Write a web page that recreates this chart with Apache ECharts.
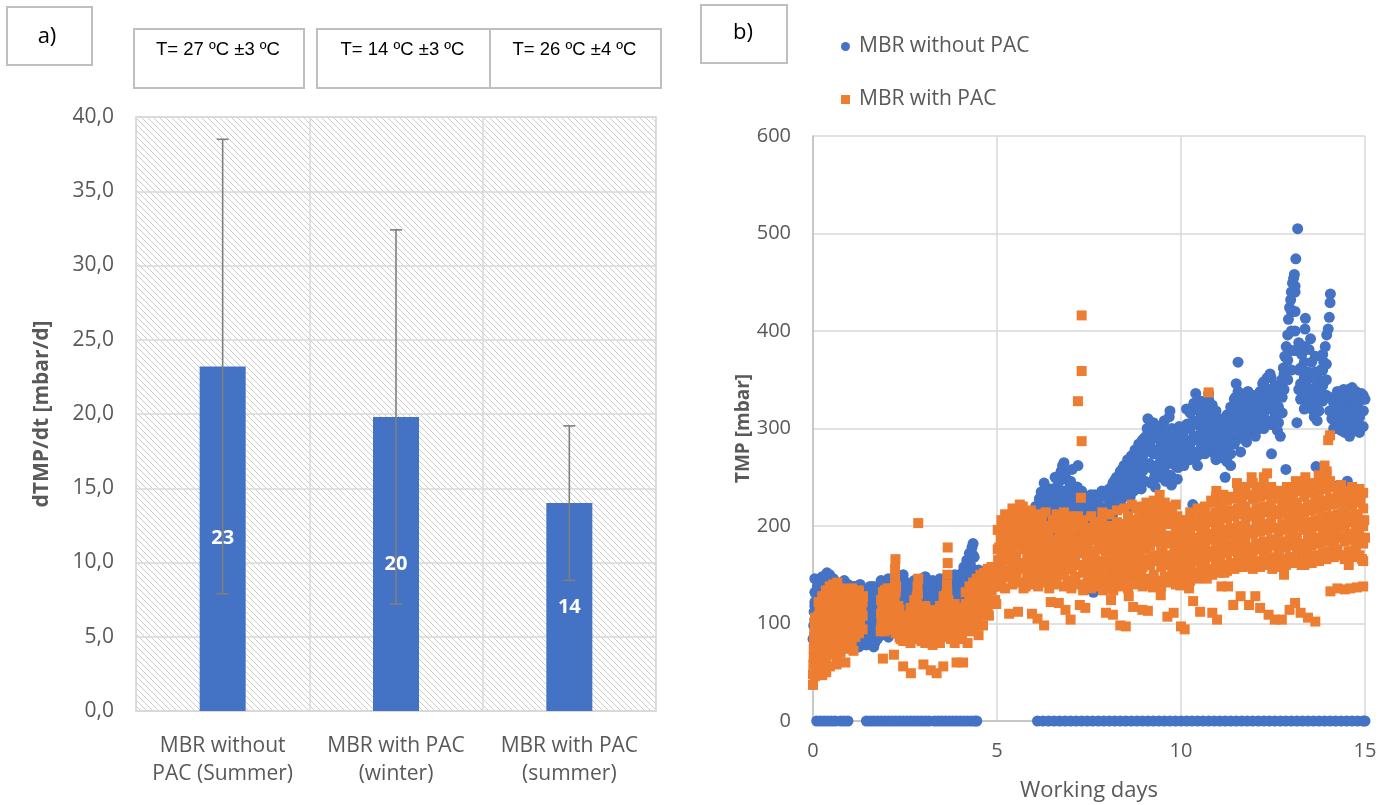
<!DOCTYPE html>
<html>
<head>
<meta charset="utf-8">
<script src="https://cdn.jsdelivr.net/npm/echarts@6/dist/echarts.min.js"></script>
<style>
  html, body { margin: 0; padding: 0; background: #fff; }
  #chart { width: 1386px; height: 805px; }
</style>
</head>
<body>
<div id="chart"></div>
<script>
// ---------- panel a) : fouling rate per operating period ----------
const barCategories = ['MBR without\nPAC (Summer)', 'MBR with PAC\n(winter)', 'MBR with PAC\n(summer)'];
const barMeans = [23.2, 19.8, 14.0];
const barStdDev = [15.3, 12.6, 5.2];
const tempLabels = ['T= 27 ºC ±3 ºC', 'T= 14 ºC ±3 ºC', 'T= 26 ºC ±4 ºC'];
const rateTicks = { min: 0, max: 40, interval: 5 };

// ---------- panel b) : TMP over working days ----------
const dayTicks = { min: 0, max: 15, interval: 5 };
const tmpTicks = { min: 0, max: 600, interval: 100 };

// MBR without PAC: logger readings of 0 mbar (pump stopped)
const withoutPacZeroDays = [
  0.10, 0.20, 0.30, 0.40, 0.50, 0.60, 0.75, 0.85, 0.95,
  1.45, 1.55, 1.65, 1.75, 1.85, 1.95, 2.05, 2.15, 2.25, 2.35, 2.45, 2.55, 2.65, 2.75, 2.85, 2.95, 3.05, 3.15,
  3.30, 3.40, 3.50, 3.60, 3.70, 3.80, 3.90, 4.00, 4.10, 4.20, 4.30, 4.40, 4.45,
  6.10, 6.25, 6.40, 6.55, 6.70, 6.85, 7.00, 7.15, 7.30, 7.45, 7.60, 7.75, 7.90, 8.05, 8.20, 8.35, 8.50, 8.65,
  8.80, 8.95, 9.10, 9.25, 9.40, 9.55, 9.70, 9.85, 10.00, 10.15, 10.30, 10.45, 10.60, 10.75, 10.90, 11.05,
  11.20, 11.35, 11.50, 11.65, 11.80, 11.95, 12.10, 12.25, 12.40, 12.55, 12.70, 12.85, 13.00, 13.15, 13.30,
  13.45, 13.60, 13.75, 13.90, 14.05, 14.20, 14.35, 14.50, 14.65, 14.80, 14.95, 15.00
];

// MBR without PAC: single readings [day, TMP mbar]
const withoutPacDays0to5 = [
  [0.00,84],[0.02,98],[0.03,112],[0.05,122],[0.06,104],[0.08,130],[0.10,118],[0.12,138],[0.14,108],[0.16,126],
  [0.18,140],[0.20,115],[0.22,132],[0.25,145],[0.27,122],[0.30,136],[0.32,148],[0.35,128],[0.38,152],[0.40,142],
  [0.42,118],[0.45,134],[0.48,126],[0.50,112],[0.53,138],[0.56,122],[0.58,96],[0.60,130],[0.63,108],[0.66,118],
  [0.70,100],[0.74,126],[0.78,112],[0.82,132],[0.86,120],[0.90,104],[0.94,128],[0.98,138],
  [1.00,80],[1.02,95],[1.05,110],[1.08,125],[1.10,138],[1.13,88],[1.16,102],[1.20,118],[1.24,132],[1.28,140],
  [1.30,78],[1.33,92],[1.36,106],[1.40,120],[1.44,134],[1.48,84],[1.52,98],[1.56,112],[1.60,126],[1.64,138],
  [1.68,80],[1.72,94],[1.75,108],[1.78,122],[1.80,135],
  [1.85,90],[1.90,110],[1.95,128],[2.00,100],[2.05,86],[2.10,120],[2.15,138],[2.20,145],[2.25,105],[2.30,130],
  [2.35,148],[2.40,115],[2.45,140],[2.50,125],
  [2.55,100],[2.60,132],[2.65,118],[2.70,108],[2.75,140],[2.80,96],[2.85,125],[2.90,112],[2.95,135],[3.00,104],
  [3.05,148],[3.10,120],[3.15,140],[3.20,110],[3.25,128],
  [3.30,102],[3.35,124],[3.40,142],[3.45,115],[3.50,135],[3.55,108],[3.60,128],[3.65,145],[3.70,118],[3.75,138],
  [3.80,104],[3.85,126],[3.90,146],[3.95,108],[4.00,132],
  [4.05,150],[4.08,138],[4.10,158],[4.14,145],[4.18,165],[4.22,152],[4.25,172],[4.28,160],[4.32,178],[4.35,182],
  [4.38,168],[4.42,150],[4.46,142],[4.50,155],[4.55,148],[4.60,140],[4.65,152],[4.70,146],[4.80,148],[4.90,142]
];

const withoutPacDays6to10 = [
  [6.05,180],[6.10,205],[6.15,222],[6.18,212],[6.20,235],[6.25,198],[6.28,244],[6.30,226],[6.33,210],[6.36,190],
  [6.40,232],[6.43,205],[6.46,218],[6.50,142],[6.52,228],[6.55,200],[6.60,238],[6.63,214],[6.66,190],[6.70,246],
  [6.74,256],[6.78,262],[6.82,265],[6.86,250],[6.90,222],[6.93,205],[6.96,238],[7.00,246],[7.03,214],[7.06,195],
  [7.10,230],[7.14,208],[7.18,240],[7.22,192],[7.26,222],[7.30,236],[7.34,178],[7.38,210],[7.42,226],
  [7.45,200],[7.50,218],[7.55,232],[7.60,190],[7.62,132],[7.65,212],[7.70,226],[7.75,198],[7.80,220],[7.85,236],
  [7.90,204],[7.95,216],[8.00,230],[8.05,198],[8.10,222],[8.15,242],[8.20,247],
  [8.25,248],[8.30,225],[8.35,240],[8.40,258],[8.45,232],[8.50,250],[8.55,218],[8.60,262],[8.65,244],[8.70,266],
  [8.75,252],[8.80,275],[8.85,258],[8.90,282],[8.95,270],[9.00,290],[9.05,262],[9.08,300],[9.10,310],[9.12,278],
  [9.15,285],[9.20,262],[9.25,295],[9.28,250],[9.32,278],[9.36,298],[9.40,302],[9.44,270],[9.48,286],[9.52,256],
  [9.56,280],[9.60,298],[9.64,268],[9.68,312],[9.70,318],[9.74,242],[9.76,290],[9.80,272],[9.84,296],[9.88,282],
  [9.92,260],[9.96,288],[10.00,300],[10.04,276],
  [8.62,230],[8.72,236],[8.82,242],[8.92,238],[9.02,246],[9.18,244],[9.30,240],[9.42,250],[9.58,246],[9.72,252],
  [9.90,248],[7.20,262],[7.04,258],[6.58,250]
];

const withoutPacDays10to15 = [
  [10.05,284],[10.08,262],[10.10,298],[10.15,270],[10.20,305],[10.25,276],[10.30,318],[10.32,222],[10.35,326],
  [10.40,336],[10.42,292],[10.45,262],[10.50,318],[10.55,290],[10.60,276],[10.65,304],[10.70,310],[10.75,336],
  [10.80,284],[10.85,300],[10.90,316],[10.95,268],[11.00,310],[11.05,288],[11.10,270],[11.15,296],[11.20,250],
  [11.25,282],[11.30,308],[11.35,262],
  [11.40,320],[11.45,306],[11.48,332],[11.50,346],[11.55,368],[11.58,290],[11.62,276],[11.66,318],[11.70,300],
  [11.74,322],[11.78,286],[11.82,338],[11.86,312],[11.90,328],[11.94,296],[11.98,312],[12.02,292],[12.06,324],
  [12.10,302],[12.14,336],[12.18,318],[12.22,346],[12.26,306],[12.30,326],[12.34,352],[12.38,340],[12.42,356],
  [12.46,274],[12.50,330],[12.54,318],[12.58,338],[12.62,298],[12.66,344],[12.70,292],[12.74,350],
  [12.78,362],[12.82,374],[12.85,258],[12.86,384],[12.90,396],[12.92,412],[12.95,424],[12.98,432],[13.00,440],
  [13.03,449],[13.06,454],[13.08,458],[13.12,474],[13.17,505],[13.15,306],[13.20,388],[13.25,362],[13.28,376],
  [13.32,346],[13.35,320],[13.37,402],[13.38,413],[13.42,334],[13.48,381],[13.52,392],[13.55,368],[13.58,326],
  [13.60,354],[13.62,312],[13.67,261],[13.70,308],[13.75,340],[13.80,360],[13.84,346],[13.88,368],[13.92,384],
  [13.96,396],[14.00,402],[14.02,332],[14.03,414],[14.05,429],[14.06,438],[14.04,318],
  [14.10,310],[14.15,326],[14.20,300],[14.22,241],[14.25,318],[14.30,334],[14.32,231],[14.35,306],[14.40,322],
  [14.42,340],[14.45,296],[14.50,316],[14.52,246],[14.55,332],[14.58,292],[14.60,304],[14.65,342],[14.70,320],
  [14.72,336],[14.75,298],[14.80,328],[14.85,312],[14.88,302],[14.90,336],[14.95,318],[15.00,330]
];

// MBR without PAC: filtration cycles logged as columns [day, [TMP readings]]
const withoutPacCyclesWeek1 = [
  [0.05,[90,104,118,132,146]],[0.15,[86,100,114,128,142]],[0.25,[92,106,120,134,148]],[0.35,[88,102,116,130,144]],
  [0.45,[94,108,122,136,150]],[0.55,[90,104,118,132,146]],[0.65,[86,100,114,128,142]],[0.75,[92,106,120,134]],
  [0.85,[88,102,116,130,144]],[0.95,[84,98,112,126,140]],[1.05,[78,92,106,120,134]],[1.15,[82,96,110,124,138]],
  [1.25,[76,90,104,118,132]],[1.35,[80,94,108,122,136]],[1.45,[78,92,106,120,134]],[1.55,[82,96,110,124,138]],
  [1.65,[76,90,104,118,132]],[1.75,[84,98,112,126]],[1.85,[88,102,116,130,144]],[1.95,[94,108,122,136]],
  [2.05,[90,104,118,132,146]],[2.15,[96,110,124,138]],[2.25,[92,106,120,134,148]],[2.35,[98,112,126,140]],
  [2.45,[94,108,122,136,150]],[2.55,[100,114,128,142]],[2.65,[96,110,124,138]],[2.75,[102,116,130,144]],
  [2.85,[98,112,126,140]],[2.95,[104,118,132,146]],[3.05,[100,114,128,142]],[3.15,[96,110,124,138]],
  [3.25,[102,116,130,144]],[3.35,[98,112,126,140]],[3.45,[104,118,132,146]],[3.55,[100,114,128,142]],
  [3.65,[106,120,134,148]],[3.75,[102,116,130,144]],[3.85,[108,122,136,150]],[3.95,[104,118,132,146]],
  [4.05,[110,124,138,152]],[4.15,[114,128,142,158]],[4.25,[118,132,146,164]],[4.35,[122,136,150,170]],
  [4.45,[126,140,154]],[4.55,[130,144,152]],[4.65,[134,146]],[4.75,[138,150]]
];

const withoutPacCyclesWeek2 = [
  [6.05,[168,186,204,220]],[6.15,[174,192,210,228]],[6.25,[180,198,216,234]],[6.35,[176,194,212,230]],
  [6.45,[184,202,220,238]],[6.55,[180,198,216,234]],[6.65,[188,206,224,242]],[6.75,[194,212,230,248]],
  [6.85,[200,218,236,254]],[6.95,[192,210,228,246]],[7.05,[188,206,224,240]],[7.15,[196,214,232]],
  [7.25,[190,208,226]],[7.35,[194,212,228]],[7.45,[198,214,230]],[7.55,[194,210,226]],[7.65,[200,216,232]],
  [7.75,[196,212,228]],[7.85,[202,218,234]],[7.95,[198,214,230]],[8.05,[206,222,238]],[8.15,[212,228,244]],
  [8.25,[218,234,250]],[8.35,[224,240,256]],[8.45,[230,246,262]],[8.55,[236,252,268]],[8.65,[240,256,272]],
  [8.75,[246,262,278]],[8.85,[252,268,284]],[8.95,[256,272,288]],[9.05,[260,276,292]],[9.15,[264,280,296]],
  [9.25,[258,274,290,306]],[9.35,[262,278,294]],[9.45,[266,282,298]],[9.55,[260,276,292,308]],
  [9.65,[264,280,296]],[9.75,[268,284,300]],[9.85,[262,278,294]],[9.95,[270,286,302]]
];

const withoutPacCyclesWeek3 = [
  [10.05,[266,282,298]],[10.15,[272,288,304,320]],[10.25,[268,284,300,316]],[10.35,[276,292,308,324]],
  [10.45,[272,288,304,320]],[10.55,[280,296,312,328]],[10.65,[274,290,306,322]],[10.75,[282,298,314,330]],
  [10.85,[276,292,308,324]],[10.95,[270,286,302,318]],[11.05,[278,294,310]],[11.15,[272,288,304]],
  [11.25,[266,282,298,314]],[11.35,[274,290,306,322]],[11.45,[284,300,316,330]],[11.55,[290,306,322,338]],
  [11.65,[296,312,328]],[11.75,[288,304,320,336]],[11.85,[296,312,328]],[11.95,[302,318,334]],
  [12.05,[298,314,330]],[12.15,[306,322,338]],[12.25,[300,316,332,348]],[12.35,[308,324,340]],
  [12.45,[304,320,336,352]],[12.55,[312,328,344]],[12.65,[306,322,338]],[12.75,[316,332,348]],
  [12.80,[340,356]],[12.90,[350,370]],[13.00,[360,380,400,420]],[13.10,[380,400,420,440,446]],
  [13.20,[340,360,380]],[13.25,[330,346,360]],[13.35,[336,352,368,384]],[13.45,[326,342,358]],
  [13.55,[320,336,352]],[13.65,[326,342,358,374]],[13.75,[318,334,350]],[13.85,[328,344,360,376]],
  [13.95,[334,350,366]],[14.15,[300,316,332]],[14.25,[306,322,338]],[14.35,[298,314,330]],
  [14.45,[304,320,336]],[14.55,[310,326,340]],[14.65,[300,316,332]],[14.75,[306,322,338]],
  [14.85,[296,312,328]],[14.95,[302,318,334]]
];

// MBR with PAC: single readings [day, TMP mbar]
const withPacDays0to5 = [
  [0.00,37],[0.00,48],[0.01,58],[0.02,66],[0.02,74],[0.03,82],[0.04,90],[0.05,98],[0.06,106],[0.07,78],
  [0.08,64],[0.10,72],[0.12,84],[0.14,96],[0.16,108],[0.18,118],[0.20,88],[0.22,100],[0.24,112],[0.25,47],
  [0.26,122],[0.28,92],[0.30,106],[0.32,118],[0.34,128],[0.36,50],[0.38,100],[0.40,112],[0.42,124],[0.44,134],
  [0.46,56],[0.48,104],[0.50,118],[0.52,130],[0.54,140],[0.56,110],[0.58,96],[0.60,122],[0.62,134],[0.64,58],
  [0.66,142],[0.68,108],
  [0.70,82],[0.72,96],[0.74,110],[0.76,124],[0.78,136],[0.80,88],[0.82,102],[0.84,116],[0.86,128],[0.88,60],
  [0.90,92],[0.92,106],[0.94,120],[0.96,132],[0.98,84],[1.00,98],[1.02,112],[1.04,126],[1.06,136],[1.08,90],
  [1.10,72],[1.12,104],[1.14,118],[1.16,130],[1.18,94],[1.20,108],[1.22,122],[1.24,134],[1.28,100],[1.32,116],
  [1.36,128],
  [1.84,92],[1.86,106],[1.88,120],[1.90,132],[1.90,64],[1.93,98],[1.96,112],[1.99,126],[2.02,136],[2.05,94],
  [2.08,108],[2.11,122],[2.14,134],[2.17,100],[2.20,114],[2.22,128],[2.23,146],[2.23,156],[2.24,166],[2.20,68],
  [2.26,138],[2.29,104],[2.32,118],[2.35,90],[2.38,84],[2.42,96],[2.45,56],[2.48,88],[2.52,82],[2.56,90],
  [2.60,86],[2.64,94],[2.66,49],[2.68,100],[2.72,88],[2.76,108],[2.80,118],[2.82,128],[2.84,138],[2.86,146],
  [2.86,203],[2.88,112],[2.90,98],[2.94,90],[2.98,104],[3.00,58],[3.02,116],[3.06,92],[3.10,84],[3.14,100],
  [3.18,110],[3.20,52],[3.22,88],[3.26,96],[3.30,80],[3.34,106],[3.36,49],[3.38,92],
  [3.42,84],[3.46,98],[3.50,110],[3.54,56],[3.56,92],[3.60,118],[3.62,130],[3.64,140],[3.65,150],[3.66,162],
  [3.66,178],[3.68,124],[3.70,106],[3.74,96],[3.78,88],[3.82,100],[3.86,112],[3.90,60],[3.92,94],[3.96,104],
  [4.00,90],[4.04,100],[4.08,60],[4.10,108],[4.14,96],[4.18,116],[4.20,80],[4.22,104],[4.26,122],[4.30,110],
  [4.34,128],[4.38,118],[4.40,92],[4.42,134],[4.46,124],[4.50,88],[4.52,140],[4.56,130],[4.60,146],[4.62,98],
  [4.64,136],[4.68,152],[4.72,142],[4.76,154],[4.78,108],[4.80,146],[4.84,150],[4.88,138],[4.92,152],[4.96,146],
  [4.98,120]
];

const withPacDays5to10 = [
  [5.00,150],[5.03,165],[5.06,178],[5.08,140],[5.10,188],[5.13,160],[5.16,172],[5.18,196],[5.20,148],[5.22,182],
  [5.25,204],[5.28,166],[5.30,190],[5.33,110],[5.35,176],[5.38,200],[5.40,156],[5.42,212],[5.45,184],[5.48,168],
  [5.50,194],[5.53,146],[5.55,206],[5.57,112],[5.60,180],[5.63,214],[5.66,192],[5.68,160],[5.70,220],[5.73,176],
  [5.76,200],[5.78,138],[5.80,186],[5.84,208],[5.88,170],[5.90,214],[5.93,150],[5.95,110],[5.97,192],
  [6.00,176],[6.03,198],[6.06,160],[6.08,150],[6.10,105],[6.12,186],[6.15,170],[6.18,202],[6.20,146],[6.23,182],
  [6.26,166],[6.28,98],[6.30,196],[6.33,156],[6.36,176],[6.40,190],[6.43,148],[6.46,122],[6.48,170],[6.50,200],
  [6.53,160],[6.56,184],[6.60,150],[6.63,206],[6.66,172],[6.68,121],[6.70,190],[6.73,210],[6.76,164],[6.80,196],
  [6.83,150],[6.86,114],[6.88,180],[6.92,202],[6.95,168],[6.98,188],[7.00,104],[7.03,156],[7.06,196],[7.10,172],
  [7.13,146],[7.16,186],[7.20,210],[7.20,328],[7.23,160],[7.25,119],[7.28,229],[7.30,287],[7.30,359],[7.30,416],
  [7.32,176],[7.35,152],[7.38,190],[7.40,116],
  [7.44,168],[7.48,184],[7.52,150],[7.55,192],[7.58,174],[7.62,140],[7.65,186],[7.68,160],[7.72,196],[7.75,148],
  [7.78,176],[7.82,190],[7.85,162],[7.88,134],[7.90,182],[7.93,198],[7.96,111],[7.98,156],[8.00,176],[8.04,190],
  [8.07,146],[8.10,124],[8.12,168],[8.15,109],[8.17,186],[8.20,198],[8.24,156],[8.27,176],[8.30,142],[8.33,192],
  [8.35,98],[8.38,164],[8.42,184],[8.45,150],[8.48,200],[8.50,97],[8.52,172],[8.55,188],[8.58,128],[8.60,160],
  [8.64,206],[8.68,178],[8.70,117],[8.72,194],[8.75,152],[8.78,218],[8.82,170],[8.85,200],[8.88,186],[8.92,150],
  [8.95,114],[8.98,210],[9.02,176],[9.05,194],[9.08,160],[9.10,113],[9.12,216],[9.16,182],[9.20,198],[9.24,137],
  [9.26,168],[9.30,208],[9.34,186],[9.38,224],[9.42,232],[9.45,129],[9.46,196],[9.50,174],[9.54,212],[9.58,190],
  [9.60,143],[9.63,107],[9.65,160],[9.68,204],[9.72,184],[9.76,220],[9.80,111],[9.82,172],[9.86,196],[9.90,210],
  [9.94,160],[9.98,139],[10.00,97]
];

const withPacDays10to15 = [
  [10.02,150],[10.05,172],[10.08,196],[10.10,94],[10.12,160],[10.15,184],[10.18,206],[10.20,166],[10.22,136],
  [10.24,190],[10.27,154],[10.30,178],[10.33,123],[10.35,200],[10.38,164],[10.42,186],[10.45,150],[10.48,208],
  [10.52,112],[10.54,174],[10.57,196],[10.60,158],[10.63,216],[10.66,182],[10.70,146],[10.72,204],[10.75,337],
  [10.78,170],[10.82,226],[10.85,111],[10.87,190],[10.90,156],[10.93,214],[10.96,236],[10.98,104],[11.00,178],
  [11.03,200],[11.06,164],[11.10,138],[11.12,222],[11.15,186],[11.18,152],[11.22,208],[11.25,174],[11.28,138],
  [11.30,196],[11.34,230],[11.38,162],[11.42,119],[11.44,212],[11.48,186],[11.52,244],[11.55,170],[11.58,200],
  [11.62,128],[11.65,226],[11.68,158],[11.72,190],[11.75,240],[11.78,176],[11.82,212],[11.85,119],[11.88,166],
  [11.92,250],[11.95,196],[11.98,228],[12.02,128],[12.04,182],[12.08,210],[12.12,160],[12.15,116],[12.18,240],
  [12.22,196],[12.26,218],[12.30,172],[12.34,254],[12.38,109],[12.40,200],[12.44,232],[12.48,156],[12.52,186],
  [12.55,104],[12.58,214],[12.62,236],[12.66,170],[12.70,198],[12.74,104],[12.76,222],[12.80,150],[12.84,184],
  [12.88,240],[12.92,206],[12.95,114],[12.98,168],[13.02,226],[13.06,192],[13.10,121],[13.12,246],[13.16,178],
  [13.20,210],[13.25,111],[13.28,160],[13.30,236],[13.34,198],[13.38,250],[13.42,172],[13.45,106],[13.48,216],
  [13.52,188],[13.56,244],[13.60,164],[13.65,102],[13.66,226],[13.70,200],[13.74,252],[13.78,182],[13.82,210],
  [13.86,240],[13.90,262],[13.93,170],[13.96,256],[14.00,288],[14.02,196],[14.05,293],[14.06,133],[14.08,228],
  [14.12,210],[14.16,182],[14.20,240],[14.25,136],[14.28,200],[14.32,226],[14.36,170],[14.40,214],[14.45,135],
  [14.48,232],[14.52,192],[14.56,160],[14.60,136],[14.62,220],[14.66,204],[14.70,236],[14.74,178],[14.78,137],
  [14.80,212],[14.84,196],[14.88,226],[14.92,166],[14.95,138],[14.98,206],[15.00,188]
];

// MBR with PAC: filtration cycles logged as columns [day, [TMP readings]]
const withPacCyclesWeek1 = [
  [0.05,[46,60,74,88,102]],[0.15,[52,66,80,94,108,122]],[0.25,[58,72,86,100,114,128]],[0.35,[64,78,92,106,120,134]],
  [0.45,[68,82,96,110,124,138]],[0.55,[72,86,100,114,128]],[0.65,[66,80,94,108,122,138]],[0.75,[70,84,98,112,126]],
  [0.85,[74,88,102,116,130]],[0.95,[78,92,106,120,134]],[1.05,[82,96,110,124]],[1.15,[86,100,114,128]],
  [1.25,[90,104,118,132]],[1.35,[94,108,122]],
  [1.85,[96,110,124]],[1.95,[92,106,120,134]],[2.05,[98,112,126]],[2.15,[94,108,122,136]],[2.25,[90,104,118,132]],
  [2.35,[86,100,114]],[2.45,[82,94,106]],[2.55,[84,96,108]],[2.65,[80,92,104,116]],[2.75,[84,96,110,124]],
  [2.85,[88,102,116,130]],[2.95,[82,94,108]],[3.05,[80,92,104,118]],[3.15,[84,96,108]],[3.25,[78,90,102,114]],
  [3.35,[82,94,106]],[3.45,[80,92,104,118]],[3.55,[86,100,114,128]],[3.65,[90,104,118,132]],[3.75,[84,98,112]],
  [3.85,[80,92,106,120]],[3.95,[84,96,110]],[4.05,[88,102,116]],[4.15,[92,106,120,132]],[4.25,[96,110,124,138]],
  [4.35,[100,114,128,142]],[4.45,[104,118,132,146]],[4.55,[108,122,136,150]],[4.65,[112,126,140,152]],
  [4.75,[116,130,144,156]],[4.85,[120,134,146,158]],[4.95,[124,138,150]]
];

const withPacCyclesWeek2 = [
  [5.02,[138,158,176,196]],[5.12,[144,166,186,206]],[5.22,[136,154,172,192,212]],[5.32,[148,168,188,208]],
  [5.42,[140,160,180,200,218]],[5.52,[150,170,190,210]],[5.62,[142,162,184,204,222]],[5.72,[136,156,178,198,214]],
  [5.82,[146,166,188,206]],[5.92,[140,160,180,200,216]],[6.02,[148,168,190,208]],[6.12,[138,156,176,196,212]],
  [6.22,[150,170,190,206]],[6.32,[142,162,182,200,214]],[6.42,[136,156,178,198]],[6.52,[146,166,186,206]],
  [6.62,[140,160,180,198,212]],[6.72,[150,170,188,206]],[6.82,[138,158,178,196,214]],[6.92,[144,164,184,204]],
  [7.02,[136,156,176,196,210]],[7.12,[148,166,186,204]],[7.22,[140,160,180,198]],[7.34,[134,154,172,192,206]],
  [7.46,[142,162,180,198]],[7.56,[136,156,174,194,210]],[7.66,[146,166,186,204]],[7.76,[138,158,178,198]],
  [7.86,[144,164,184,204,214]],[7.96,[136,154,174,194]],[8.06,[142,162,182,200,212]],[8.16,[134,152,172,192]],
  [8.26,[146,166,186,204,216]],[8.36,[138,158,176,196]],[8.46,[144,164,184,202,218]],[8.56,[136,156,176,196,210]],
  [8.66,[146,166,186,206,222]],[8.76,[140,160,180,200]],[8.86,[148,168,188,208,220]],[8.96,[138,158,178,198,214]],
  [9.06,[146,166,186,206,224]],[9.16,[140,160,180,200,214]],[9.26,[150,170,190,210,226]],[9.36,[144,164,184,204,218]],
  [9.46,[138,158,178,198,216]],[9.56,[148,168,188,208,224]],[9.66,[142,162,182,202,218]],[9.76,[150,170,190,210]],
  [9.86,[140,160,180,200,222]],[9.96,[146,166,186,206]]
];

const withPacCyclesWeek3 = [
  [10.05,[142,160,178,196]],[10.15,[150,168,186,204]],[10.25,[144,162,180,198,214]],[10.35,[152,170,188,206]],
  [10.45,[146,164,182,200,218]],[10.55,[154,172,190,208]],[10.65,[148,166,184,202,220]],[10.75,[156,174,192,210]],
  [10.85,[150,168,186,204,224]],[10.95,[158,176,194,212,230]],[11.05,[152,170,188,206,222]],[11.15,[160,178,196,214,232]],
  [11.25,[154,172,190,208,226]],[11.35,[162,180,198,216]],[11.45,[156,174,192,210,228]],[11.55,[164,182,200,218,236]],
  [11.65,[158,176,194,212,230]],[11.75,[166,184,202,220]],[11.85,[160,178,196,214,232]],[11.95,[156,174,192,210,228,244]],
  [12.05,[164,182,200,218,236]],[12.15,[158,176,194,212,230]],[12.25,[166,184,202,220,238,250]],[12.35,[160,178,196,214,232]],
  [12.45,[168,186,204,222,240]],[12.55,[162,180,198,216,234]],[12.65,[158,176,194,212,228]],[12.75,[166,184,202,220,236]],
  [12.85,[160,178,196,214,230]],[12.95,[168,186,204,222,238]],[13.05,[162,180,198,216,234]],[13.15,[170,188,206,224,240]],
  [13.25,[164,182,200,218,236]],[13.35,[160,178,196,214,230,246]],[13.45,[168,186,204,222,240]],[13.55,[162,180,198,216,234]],
  [13.65,[170,188,206,224,242]],[13.75,[164,182,200,218,236]],[13.85,[172,190,208,226,244]],[13.95,[166,184,202,220,238,252]],
  [14.05,[174,192,210,228,246]],[14.15,[168,186,204,222,240]],[14.25,[176,194,212,230]],[14.35,[170,188,206,224,242]],
  [14.45,[166,184,202,220,236]],[14.55,[174,192,210,228]],[14.65,[168,186,204,222,240]],[14.75,[176,194,212,230]],
  [14.85,[170,188,206,224,238]],[14.95,[164,182,200,218,234]]
];

// ---------- styling ----------
const BLUE = '#4472C4';
const ORANGE = '#ED7D31';
const TEXT = '#595959';
const GRID_LINE = '#d9d9d9';
const FONT = '"Open Sans", "Noto Sans", sans-serif';

// light diagonal hatching used as the plot-area fill of panel a)
function hatchPattern() {
  const s = 6;
  const c = document.createElement('canvas');
  c.width = s; c.height = s;
  const g = c.getContext('2d');
  g.fillStyle = '#ffffff';
  g.fillRect(0, 0, s, s);
  g.strokeStyle = '#cdcdcd';
  g.lineWidth = 1;
  g.beginPath();
  g.moveTo(-1, -1); g.lineTo(s + 1, s + 1);
  g.moveTo(-1, s - 1); g.lineTo(1, s + 1);
  g.moveTo(s - 1, -1); g.lineTo(s + 1, 1);
  g.stroke();
  return c;
}

// expand [day, [readings]] columns into [day, reading] points
function expandCycles(cycles) {
  const out = [];
  cycles.forEach(([d, vals]) => vals.forEach(v => out.push([d, v])));
  return out;
}

const errorData = barMeans.map((m, i) => [i, m - barStdDev[i], m + barStdDev[i]]);
const withoutPac = withoutPacZeroDays.map(d => [d, 0])
  .concat(expandCycles(withoutPacCyclesWeek1), expandCycles(withoutPacCyclesWeek2), expandCycles(withoutPacCyclesWeek3))
  .concat(withoutPacDays0to5, withoutPacDays6to10, withoutPacDays10to15);
const withPac = expandCycles(withPacCyclesWeek1)
  .concat(expandCycles(withPacCyclesWeek2), expandCycles(withPacCyclesWeek3))
  .concat(withPacDays0to5, withPacDays5to10, withPacDays10to15);

// boxed captions above panel a) and the panel tags
const boxStyle = { fill: '#fff', stroke: '#bfbfbf', lineWidth: 2 };
const tempBoxes = [[133, 170], [316, 173], [489, 171]];
const graphics = [
  { type: 'rect', left: 6, top: 6, shape: { width: 85, height: 58 }, style: boxStyle },
  { type: 'text', x: 47, y: 37, style: { text: 'a)', font: '22px ' + FONT, fill: '#000', align: 'center', verticalAlign: 'middle' } },
  { type: 'rect', left: 700, top: 4, shape: { width: 86, height: 58 }, style: boxStyle },
  { type: 'text', x: 743, y: 33, style: { text: 'b)', font: '22px ' + FONT, fill: '#000', align: 'center', verticalAlign: 'middle' } }
];
tempLabels.forEach((t, i) => {
  const [x, w] = tempBoxes[i];
  graphics.push({ type: 'rect', left: x, top: 28, shape: { width: w, height: 59 }, style: boxStyle });
  graphics.push({ type: 'text', x: x + w / 2, y: 50, style: { text: t, font: '18.5px "Liberation Sans", Arial, sans-serif', fill: '#000', align: 'center', verticalAlign: 'middle' } });
});

const chart = echarts.init(document.getElementById('chart'), null, { renderer: 'canvas' });
chart.setOption({
  animation: false,
  backgroundColor: '#fff',
  textStyle: { fontFamily: FONT },
  graphic: graphics,
  legend: {
    orient: 'vertical',
    left: 836,
    top: 31,
    itemGap: 32,
    itemWidth: 9,
    itemHeight: 9,
    textStyle: { color: TEXT, fontSize: 21, fontFamily: FONT, padding: [0, 0, 0, 4] },
    data: [
      { name: 'MBR without PAC', icon: 'circle' },
      { name: 'MBR with PAC', icon: 'rect' }
    ]
  },
  grid: [
    { left: 136, right: 730, top: 117, bottom: 94, show: true, outerBoundsMode: 'none',
      backgroundColor: { image: hatchPattern(), repeat: 'repeat' },
      borderColor: GRID_LINE, borderWidth: 1.5 },
    { left: 813, right: 21, top: 136, bottom: 84, outerBoundsMode: 'none' }
  ],
  xAxis: [
    {
      gridIndex: 0, type: 'category', data: barCategories,
      axisLine: { lineStyle: { color: GRID_LINE, width: 1.5 } },
      axisTick: { show: false },
      splitLine: { show: true, lineStyle: { color: GRID_LINE, width: 1.5 } },
      axisLabel: { color: TEXT, fontSize: 21, lineHeight: 28, margin: 21, interval: 0 }
    },
    {
      gridIndex: 1, type: 'value', min: dayTicks.min, max: dayTicks.max, interval: dayTicks.interval,
      name: 'Working days', nameLocation: 'middle', nameGap: 59,
      nameTextStyle: { color: TEXT, fontSize: 22 },
      axisLine: { show: true, lineStyle: { color: '#bfbfbf', width: 1.5 } },
      axisTick: { show: false },
      splitLine: { show: true, lineStyle: { color: GRID_LINE, width: 1.5 } },
      axisLabel: { color: TEXT, fontSize: 20, margin: 20 }
    }
  ],
  yAxis: [
    {
      gridIndex: 0, type: 'value', min: rateTicks.min, max: rateTicks.max, interval: rateTicks.interval,
      name: 'dTMP/dt [mbar/d]', nameLocation: 'middle', nameGap: 83,
      nameTextStyle: { color: TEXT, fontSize: 21, fontWeight: 'bold' },
      axisLine: { show: false }, axisTick: { show: false },
      splitLine: { show: true, lineStyle: { color: GRID_LINE, width: 1.5 } },
      axisLabel: { color: TEXT, fontSize: 21, margin: 22, formatter: v => v.toFixed(1).replace('.', ',') }
    },
    {
      gridIndex: 1, type: 'value', min: tmpTicks.min, max: tmpTicks.max, interval: tmpTicks.interval,
      name: 'TMP [mbar]', nameLocation: 'middle', nameGap: 25,
      nameTextStyle: { color: TEXT, fontSize: 19, fontWeight: 'bold' },
      axisLine: { show: true, lineStyle: { color: '#bfbfbf', width: 1.5 } },
      axisTick: { show: false },
      splitLine: { show: true, lineStyle: { color: GRID_LINE, width: 1.5 } },
      axisLabel: { color: TEXT, fontSize: 20, margin: 22 }
    }
  ],
  series: [
    {
      type: 'bar', xAxisIndex: 0, yAxisIndex: 0, data: barMeans, barWidth: 46,
      itemStyle: { color: BLUE },
      label: { show: true, position: 'inside', color: '#fff', fontSize: 20, fontWeight: 'bold',
        formatter: p => Math.round(p.value) }
    },
    {
      type: 'custom', xAxisIndex: 0, yAxisIndex: 0, data: errorData, z: 5,
      encode: { x: 0, y: [1, 2] },
      renderItem: (params, api) => {
        const lo = api.coord([api.value(0), api.value(1)]);
        const hi = api.coord([api.value(0), api.value(2)]);
        const cap = 6;
        const style = { stroke: '#7f7f7f', lineWidth: 1.6 };
        return {
          type: 'group',
          children: [
            { type: 'line', shape: { x1: hi[0], y1: hi[1], x2: lo[0], y2: lo[1] }, style },
            { type: 'line', shape: { x1: hi[0] - cap, y1: hi[1], x2: hi[0] + cap, y2: hi[1] }, style },
            { type: 'line', shape: { x1: lo[0] - cap, y1: lo[1], x2: lo[0] + cap, y2: lo[1] }, style }
          ]
        };
      }
    },
    {
      name: 'MBR without PAC', type: 'scatter', xAxisIndex: 1, yAxisIndex: 1,
      symbol: 'circle', symbolSize: 11, itemStyle: { color: BLUE, opacity: 1 },
      data: withoutPac
    },
    {
      name: 'MBR with PAC', type: 'scatter', xAxisIndex: 1, yAxisIndex: 1,
      symbol: 'rect', symbolSize: 10, itemStyle: { color: ORANGE, opacity: 1 },
      data: withPac
    }
  ]
});
</script>
</body>
</html>
